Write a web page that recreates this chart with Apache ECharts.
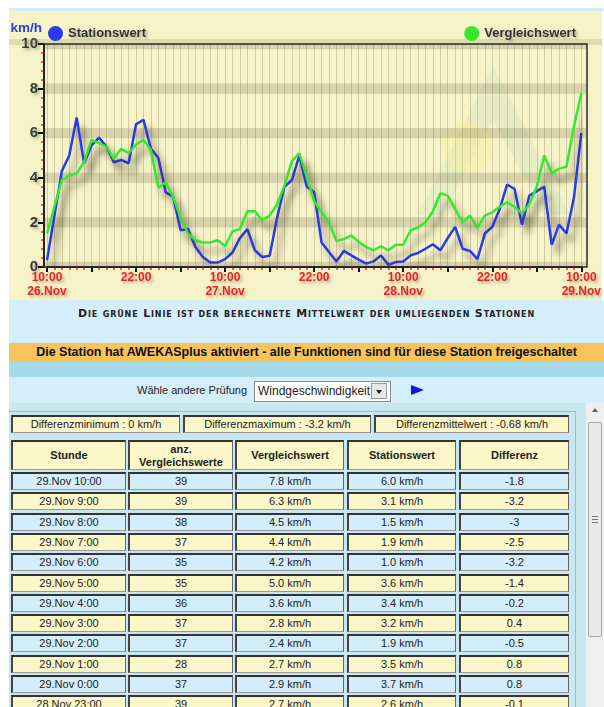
<!DOCTYPE html>
<html>
<head>
<meta charset="utf-8">
<script src="https://cdn.jsdelivr.net/npm/echarts@6/dist/echarts.min.js"></script>
<style>
  body { margin: 0; width: 604px; height: 707px; overflow: hidden; position: relative; background: #fff;
         font-family: "Liberation Sans", Arial, sans-serif; color: #222; }
  .abs { position: absolute; }
  #topline { left: 9px; top: 8px; width: 595px; height: 3px; background: #d4ecf6; }
  #chartbg { left: 9px; top: 11px; width: 593px; height: 289px; background: #f6f3c9; }
  #chart { left: 0; top: 0; width: 604px; height: 300px; }
  #note { left: 9px; top: 300px; width: 595px; height: 43px; background: #d4effb; text-align: center;
          font-family: "DejaVu Sans", sans-serif; font-weight: bold; font-variant: small-caps; font-size: 11px;
          letter-spacing: 0.85px; line-height: 27px; color: #222; }
  #plus { left: 9px; top: 343px; width: 595px; height: 18px; background: #f7c45c; text-align: center;
          font-weight: bold; font-size: 12.5px; line-height: 18px; color: #111; }
  #band { left: 9px; top: 361px; width: 595px; height: 16px; background: #a6dae8; }
  #pick { left: 9px; top: 377px; width: 595px; height: 26px; background: #d4effb; }
  #pickLabel { left: 137px; top: 384px; font-size: 11px; }
  #select { left: 254px; top: 381px; width: 135px; height: 19px; background: #fff; border: 1px solid #8a8a8a;
            font-size: 12px; line-height: 19px; text-indent: 3px; box-sizing: content-box; }
  #selBtn { left: 371px; top: 383px; width: 16px; height: 16px; background: #e6e6e6; border: 1px solid #999; box-sizing: border-box; }
  #selBtn:after { content: ""; position: absolute; left: 4px; top: 6px; border-left: 3px solid transparent;
                  border-right: 3px solid transparent; border-top: 4px solid #222; }
  #go { left: 411px; top: 385px; width: 0; height: 0; border-top: 5px solid transparent; border-bottom: 5px solid transparent;
        border-left: 13px solid #1414e0; }
  #tablebox { left: 9px; top: 403px; width: 577px; height: 304px; background: #c8e7f0; }
  #tableInner { left: 9px; top: 411px; width: 566px; height: 296px; border-top: 1px solid #8cc3d4; border-right: 1px solid #8cc3d4; }
  .cell { position: absolute; box-sizing: border-box; border-style: solid; border-width: 2px 1px 1px 2px;
          border-color: #333 #666 #999 #444; text-align: center; font-size: 11px; }
  .sum { background: #fbf7c8; height: 18px; line-height: 15px; }
  .head { background: #fbf7c8; font-weight: bold; height: 30px; }
  .row { height: 18px; line-height: 15px; }
  #scroll { left: 586px; top: 403px; width: 18px; height: 304px; background: #efefef; }
  #scrollUp { left: 592px; top: 408px; width: 0; height: 0; border-left: 3px solid transparent; border-right: 3px solid transparent;
              border-bottom: 4px solid #666; }
  #thumb { left: 588px; top: 422px; width: 14px; height: 215px; background: #e9e9e9; border: 1px solid #a8a8a8; border-radius: 2px; box-sizing: border-box; }
  .grip { left: 592px; width: 6px; height: 1px; background: #777; }
</style>
</head>
<body>
<div id="topline" class="abs"></div>
<div id="chartbg" class="abs"></div>
<div id="chart" class="abs"></div>
<div id="note" class="abs">Die grüne Linie ist der berechnete Mittelwert der umliegenden Stationen</div>
<div id="plus" class="abs">Die Station hat AWEKASplus aktiviert - alle Funktionen sind für diese Station freigeschaltet</div>
<div id="band" class="abs"></div>
<div id="pick" class="abs"></div>
<div id="pickLabel" class="abs">Wähle andere Prüfung</div>
<div id="select" class="abs">Windgeschwindigkeit</div>
<div id="selBtn" class="abs"></div>
<div id="go" class="abs"></div>
<div id="tablebox" class="abs"></div>
<div id="tableInner" class="abs"></div>
<div id="table"></div>
<div id="scroll" class="abs"></div>
<div id="scrollUp" class="abs"></div>
<div id="thumb" class="abs"></div>
<div class="abs grip" style="top:516px"></div>
<div class="abs grip" style="top:519px"></div>
<div class="abs grip" style="top:522px"></div>

<script>
// hourly values, 26.Nov 10:00 .. 29.Nov 10:00 (73 points)
const stationswert = [
  0.3, 2.3, 4.3, 5.0, 6.7, 4.65, 5.45, 5.8, 5.4, 4.7, 4.8, 4.65,
  6.4, 6.6, 5.3, 4.9, 3.35, 3.15, 1.65, 1.7, 0.9, 0.45, 0.2, 0.2,
  0.35, 0.65, 1.3, 1.7, 0.75, 0.45, 0.5, 2.2, 3.6, 3.9, 5.0, 3.6,
  3.35, 1.1, 0.67, 0.25, 0.72, 0.52, 0.33, 0.15, 0.25, 0.52, 0.1, 0.22,
  0.25, 0.52, 0.63, 0.82, 1.02, 0.75, 1.3, 1.8, 0.82, 0.72, 0.35, 1.5,
  1.8, 2.6, 3.7, 3.5, 1.9, 3.2, 3.4, 3.6, 1.0, 1.9, 1.5, 3.1,
  6.0
];
const vergleichswert = [
  1.5, 2.7, 3.9, 4.1, 4.2, 4.7, 5.7, 5.55, 5.4, 4.85, 5.3, 5.1,
  5.5, 5.7, 5.25, 3.55, 3.8, 3.15, 2.2, 1.5, 1.2, 1.1, 1.1, 1.2,
  0.93, 1.6, 1.7, 2.5, 2.5, 2.1, 2.3, 2.8, 3.65, 4.75, 5.1, 4.05,
  2.95, 2.45, 2.0, 1.17, 1.25, 1.42, 1.12, 0.9, 0.75, 0.93, 0.75, 1.0,
  1.0, 1.65, 1.77, 2.0, 2.5, 3.3, 3.2, 2.6, 2.0, 2.3, 1.75, 2.3,
  2.45, 2.7, 2.9, 2.7, 2.4, 2.8, 3.6, 5.0, 4.2, 4.4, 4.5, 6.3,
  7.8
];
const dayLabels = ['26.Nov', '27.Nov', '28.Nov', '29.Nov'];
const hourLabels = ['10:00', '22:00'];
const bandLevels = [0, 2, 4, 6, 8, 10];

// table
const rowStunde = ['29.Nov 10:00', '29.Nov 9:00', '29.Nov 8:00', '29.Nov 7:00', '29.Nov 6:00', '29.Nov 5:00',
                   '29.Nov 4:00', '29.Nov 3:00', '29.Nov 2:00', '29.Nov 1:00', '29.Nov 0:00', '28.Nov 23:00'];
const rowAnzahl = [39, 39, 38, 37, 35, 35, 36, 37, 37, 28, 37, 39];
const rowVergleich = [7.8, 6.3, 4.5, 4.4, 4.2, 5.0, 3.6, 2.8, 2.4, 2.7, 2.9, 2.7];
const rowStation = [6.0, 3.1, 1.5, 1.9, 1.0, 3.6, 3.4, 3.2, 1.9, 3.5, 3.7, 2.6];
const rowDiff = ['-1.8', '-3.2', '-3', '-2.5', '-3.2', '-1.4', '-0.2', '0.4', '-0.5', '0.8', '0.8', '-0.1'];
const summary = ['Differenzminimum : 0 km/h', 'Differenzmaximum : -3.2 km/h', 'Differenzmittelwert : -0.68 km/h'];
const headers = ['Stunde', 'anz.<br>Vergleichswerte', 'Vergleichswert', 'Stationswert', 'Differenz'];

const colX = [11, 128, 235, 347, 459];
const colW = [115, 105, 109, 109, 110];
const sumX = [11, 183, 374];
const sumW = [169, 188, 195];

let html = '';
summary.forEach((t, i) => {
  html += `<div class="cell sum" style="left:${sumX[i]}px;top:415px;width:${sumW[i]}px">${t}</div>`;
});
headers.forEach((t, i) => {
  const lh = i === 1 ? 'line-height:13px;padding-top:1px' : 'line-height:26px';
  html += `<div class="cell head" style="left:${colX[i]}px;top:440px;width:${colW[i]}px;${lh}">${t}</div>`;
});
rowStunde.forEach((s, r) => {
  const top = 472 + r * 20.3;
  const bg = r % 2 === 0 ? '#d3eefa' : '#fbf7c8';
  const vals = [s, rowAnzahl[r], rowVergleich[r].toFixed(1) + ' km/h', rowStation[r].toFixed(1) + ' km/h', rowDiff[r]];
  vals.forEach((v, i) => {
    html += `<div class="cell row" style="left:${colX[i]}px;top:${top}px;width:${colW[i]}px;background:${bg}">${v}</div>`;
  });
});
document.getElementById('table').innerHTML = html;

const chart = echarts.init(document.getElementById('chart'));
const txtShadow = { textShadowColor: 'rgba(0,0,0,0.3)', textShadowBlur: 3, textShadowOffsetX: 2, textShadowOffsetY: 2 };
const lineShadow = { shadowColor: 'rgba(50,45,20,0.5)', shadowBlur: 6, shadowOffsetX: 6, shadowOffsetY: 9 };
const redTick = { color: '#e82a2a', width: 1.5 };

const option = {
  animation: false,
  textStyle: { fontFamily: 'Liberation Sans' },
  legend: [
    { data: ['Stationswert'], left: 43, top: 21, icon: 'circle', itemWidth: 15, itemHeight: 15, itemGap: 5,
      textStyle: Object.assign({ fontSize: 13, fontWeight: 'bold', color: '#333' }, txtShadow) },
    { data: ['Vergleichswert'], right: 23, top: 21, icon: 'circle', itemWidth: 15, itemHeight: 15,
      textStyle: Object.assign({ fontSize: 13, fontWeight: 'bold', color: '#333' }, txtShadow) }
  ],
  // grid 0: the data (first/last hour sit slightly inside the frame)
  // grid 1: the frame with the y scale and the bands
  grid: [
    { left: 47, right: 21, top: 44, bottom: 33 },
    { left: 44, right: 17, top: 44, bottom: 33 }
  ],
  xAxis: [
    {
      type: 'value', min: 0, max: 72, interval: 6,
      axisLine: { onZero: false, lineStyle: { color: '#111', width: 2 } },
      axisTick: { show: true, length: 5, lineStyle: { color: '#111', width: 2 } },
      minorTick: { show: true, splitNumber: 6, length: 3, lineStyle: redTick },
      splitLine: { show: true, lineStyle: { color: '#d0cba2', width: 1 } },
      minorSplitLine: { show: true, lineStyle: { color: '#d0cba2', width: 1 } },
      axisLabel: {
        margin: 4, showMaxLabel: true, showMinLabel: true,
        formatter: v => {
          if (v % 24 === 0) return '{t|' + hourLabels[0] + '}\n{t|' + dayLabels[v / 24] + '}';
          if (v % 24 === 12) return '{t|' + hourLabels[1] + '}';
          return '';
        },
        rich: { t: Object.assign({ color: '#ee2222', fontWeight: 'bold', fontSize: 12, lineHeight: 14 }, txtShadow) }
      }
    },
    { gridIndex: 1, type: 'value', min: 0, max: 1, show: false }
  ],
  yAxis: [
    { type: 'value', min: 0, max: 10, show: false },
    {
      gridIndex: 1, type: 'value', min: 0, max: 10, interval: 2,
      name: 'km/h', nameLocation: 'end', nameGap: 9,
      nameTextStyle: { color: '#2b3ae8', fontWeight: 'bold', fontSize: 13.5, align: 'right', padding: [0, 2, 0, 0] },
      axisLine: { show: true, lineStyle: { color: '#111', width: 2 } },
      axisTick: { show: true, length: 6, lineStyle: { color: '#111', width: 2 } },
      minorTick: { show: true, splitNumber: 5, length: 3, lineStyle: redTick },
      splitLine: { show: false },
      axisLabel: Object.assign({ fontSize: 15, fontWeight: 'bold', color: '#3a3a3a', margin: 6 }, txtShadow)
    }
  ],
  graphic: [
    { type: 'polygon', z: 1, silent: true,
      shape: { points: [[493, 66], [570, 215], [545, 215], [493, 120], [442, 215], [418, 215]] },
      style: { fill: 'rgba(120,195,175,0.11)' } },
    { type: 'circle', z: 1, silent: true, shape: { cx: 468, cy: 148, r: 26 },
      style: { fill: 'rgba(255,240,130,0.3)' } },
    { type: 'rect', z: 1, silent: true, shape: { x: 9, y: 39, width: 593, height: 6 },
      style: { fill: 'rgba(120,110,70,0.18)' } },
    { type: 'rect', z: 20, silent: true, shape: { x: 44, y: 44, width: 543, height: 223 },
      style: { fill: 'none', stroke: '#2a2a2a', lineWidth: 1.5 } }
  ],
  series: [
    {
      name: 'bands', type: 'line', xAxisIndex: 1, yAxisIndex: 1, data: [], silent: true, z: 2,
      markArea: {
        silent: true,
        itemStyle: { color: 'rgba(120,110,70,0.24)' },
        data: bandLevels.map(b => [{ yAxis: Math.max(0, b - 0.23) }, { yAxis: Math.min(10, b + 0.23) }])
      }
    },
    {
      name: 'Stationswert', type: 'line', symbol: 'none', color: '#2b3ae8', z: 3,
      data: stationswert.map((v, i) => [i, v]),
      lineStyle: Object.assign({ width: 2.5 }, lineShadow)
    },
    {
      name: 'Vergleichswert', type: 'line', symbol: 'none', color: '#33ea2a', z: 4,
      data: vergleichswert.map((v, i) => [i, v]),
      lineStyle: Object.assign({ width: 2.5 }, lineShadow)
    }
  ]
};
chart.setOption(option);
</script>
</body>
</html>
